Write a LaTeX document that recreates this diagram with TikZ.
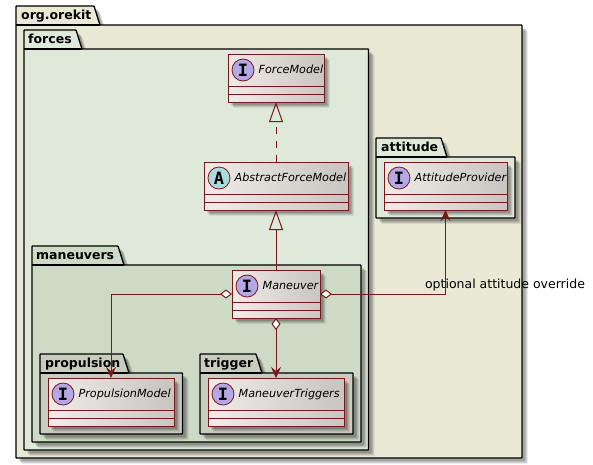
\documentclass[tikz,border=0pt]{standalone}
\usepackage{xcolor}
\usepackage{fontspec}
\setmainfont{DejaVu Sans}
\newfontfamily\spotfont{DejaVu Sans Mono}
\usepackage{tikz}
\usetikzlibrary{arrows.meta, positioning, shadows}

\definecolor{umlline}{HTML}{781818}
\definecolor{orgfill}{HTML}{EAE9D6}
\definecolor{forcesfill}{HTML}{DFE9D9}
\definecolor{maneuversfill}{HTML}{CCDAC6}
\definecolor{leaffill}{HTML}{C9CDBF}
\definecolor{classleft}{HTML}{EFEAE6}
\definecolor{classright}{HTML}{CAC6C2}
\definecolor{spoti}{HTML}{B4A7E5}
\definecolor{spota}{HTML}{A9DCDF}

\tikzset{
    softshadow/.style={
        general shadow={shadow xshift=6pt, shadow yshift=-6pt, fill=black, opacity=.07},
        general shadow={shadow xshift=5pt, shadow yshift=-5pt, fill=black, opacity=.1},
        general shadow={shadow xshift=4pt, shadow yshift=-4pt, fill=black, opacity=.12},
        general shadow={shadow xshift=3pt, shadow yshift=-3pt, fill=black, opacity=.12}},
    packbody/.style={draw=black, line width=1.3pt, rounded corners=.6pt, softshadow},
    packtitle/.style={font=\bfseries\fontsize{12.5}{14}\selectfont, inner sep=0pt, anchor=base west},
    classbox/.style={draw=umlline, line width=1pt, left color=classleft, right color=classright,
        shading angle=100, minimum height=48pt, inner sep=0pt, outer sep=0pt, softshadow},
    spot/.style={circle, draw=umlline, line width=.8pt, minimum size=22pt, inner sep=0pt,
        font=\spotfont\bfseries\fontsize{17}{17}\selectfont},
    classname/.style={font=\itshape\fontsize{11.2}{11}\selectfont, inner sep=0pt, text height=8pt, text depth=2pt},
    realizes/.style={dashed, dash pattern=on 7pt off 7pt, -{Triangle[open, length=20pt, width=14pt]}},
    extends/.style={-{Triangle[open, length=20pt, width=14pt]}},
    aggregates/.style={{Diamond[fill=white, length=12pt, width=9pt]}-{Stealth[length=11pt, width=10pt, inset=4pt]}},
    elbow/.style={to path={-| (\tikztotarget)}},
}

% left, tab top, tab right, body top, right, bottom, fill
\newcommand{\packbox}[7]{
    \path[packbody, fill=#7] (#1,#4) -- (#1,#2) -- (#3,#2) -- (#3+6,#4) -- (#5,#4) -- (#5,#6) -- (#1,#6) -- cycle;
    \draw[line width=1.3pt] (#1,#4) -- (#3+6,#4);
}

\begin{document}
\begin{tikzpicture}[x=1pt, y=-1pt]

    \useasboundingbox (0,0) rectangle (593,464);

    \packbox{16}{6}{94}{25}{522}{458}{orgfill}
    \packbox{24}{30}{76}{49}{368.5}{450}{forcesfill}
    \packbox{32}{246}{118}{265}{361}{442}{maneuversfill}
    \packbox{40}{354}{123}{373}{182.5}{434}{leaffill}
    \packbox{200}{354}{256}{373}{353}{434}{leaffill}
    \packbox{376}{138}{441}{157}{515}{218}{forcesfill}

    \node[packtitle] (orgtitle) at (21,19.5) {org.orekit};
    \node[packtitle] (forcestitle) at (28,43.5) {forces};
    \node[packtitle] (maneuverstitle) at (36,259.5) {maneuvers};
    \node[packtitle] (propulsiontitle) at (45,367.5) {propulsion};
    \node[packtitle] (triggertitle) at (204,367.5) {trigger};
    \node[packtitle] (attitudetitle) at (381,151.5) {attitude};

    \node[classbox, minimum width=96pt] (force) at (276,78) {};
    \node[classbox, minimum width=144pt] (abstract) at (276,186) {};
    \node[classbox, minimum width=88pt] (maneuver) at (276,294) {};
    \node[classbox, minimum width=126pt] (propulsion) at (111,402) {};
    \node[classbox, minimum width=136pt] (trigger) at (276,402) {};
    \node[classbox, minimum width=123pt] (attitude) at (445.5,186) {};

    \foreach \cls in {force, abstract, maneuver, propulsion, trigger, attitude} {
        \draw[umlline, line width=1pt] ([yshift=16pt]\cls.south west) -- ([yshift=16pt]\cls.south east);
        \draw[umlline, line width=1pt] ([yshift=8pt]\cls.south west) -- ([yshift=8pt]\cls.south east);
    }

    \node[spot, fill=spoti] (forcespot) at ([xshift=15pt, yshift=8pt]force.west) {I};
    \node[spot, fill=spota] (abstractspot) at ([xshift=15pt, yshift=8pt]abstract.west) {A};
    \node[spot, fill=spoti] (maneuverspot) at ([xshift=15pt, yshift=8pt]maneuver.west) {I};
    \node[spot, fill=spoti] (propulsionspot) at ([xshift=15pt, yshift=8pt]propulsion.west) {I};
    \node[spot, fill=spoti] (triggerspot) at ([xshift=15pt, yshift=8pt]trigger.west) {I};
    \node[spot, fill=spoti] (attitudespot) at ([xshift=15pt, yshift=8pt]attitude.west) {I};

    \node[classname, right=4pt of forcespot] (forcename) {ForceModel};
    \node[classname, right=4pt of abstractspot] (abstractname) {AbstractForceModel};
    \node[classname, right=4pt of maneuverspot] (maneuvername) {Maneuver};
    \node[classname, right=4pt of propulsionspot] (propulsionname) {PropulsionModel};
    \node[classname, right=4pt of triggerspot] (triggername) {ManeuverTriggers};
    \node[classname, right=4pt of attitudespot] (attitudename) {AttitudeProvider};

    \path[draw=umlline, color=umlline, line width=1pt]
    (abstract.north) edge[realizes] (force.south)
    (maneuver.north) edge[extends] (abstract.south)
    (maneuver.south) edge[aggregates] (trigger.north)
    (maneuver.west) edge[aggregates, elbow] (propulsion.north)
    (maneuver.east) edge[aggregates, elbow] (attitude.south);

    \node[font=\fontsize{12.5}{13}\selectfont, inner sep=0pt] (overridelabel) at (505,285) {optional attitude override};

\end{tikzpicture}
\end{document}
